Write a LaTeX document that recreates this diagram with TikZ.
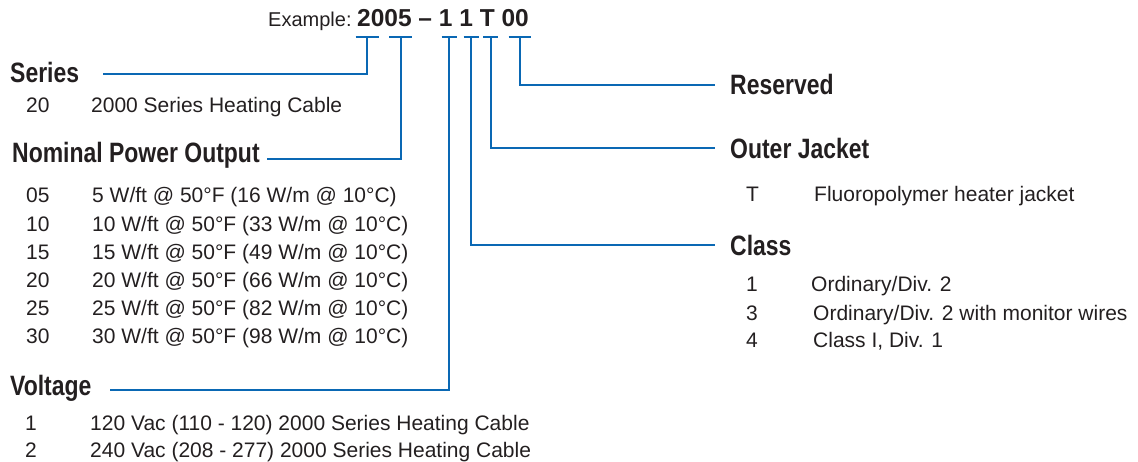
\documentclass[tikz,border=0pt]{standalone}
\usepackage{fontspec}
\setmainfont{Liberation Sans}
\newfontfamily\headfont[FakeStretch=0.82]{Liberation Sans}
\usepackage{xcolor}
\definecolor{leadblue}{HTML}{0A68B4}
\definecolor{inkgray}{HTML}{231F20}

\begin{document}
\begin{tikzpicture}[
  x=1pt, y=-1pt,
  head/.style={
    font=\headfont\bfseries\fontsize{28}{30}\selectfont,
    text=inkgray,
    anchor=base west,
    inner sep=0pt
  },
  item/.style={
    font=\fontsize{21}{24}\selectfont,
    text=inkgray,
    anchor=base west,
    inner sep=0pt
  },
  codetxt/.style={
    font=\bfseries\fontsize{24.5}{26}\selectfont,
    text=inkgray,
    anchor=base west,
    inner sep=0pt
  },
  lead/.style={draw=leadblue, line width=2pt}
]
  \useasboundingbox (0,0) rectangle (1138,462);

  % Example part number
  \node[item, font=\fontsize{20}{24}\selectfont] (exlabel) at (268,27) {Example:};
  \node[codetxt] (excode) at (357,27) {2005 – 1 1 T 00};

  % Tick points under each field of the code
  \coordinate (kSer)   at (367,37.5);
  \coordinate (kPow)   at (400.5,37.5);
  \coordinate (kVolt)  at (449,37.5);
  \coordinate (kClass) at (471,37.5);
  \coordinate (kJack)  at (490.5,37.5);
  \coordinate (kRes)   at (519.5,37.5);

  % LEFT COLUMN: Series
  \node[head] (hSer) at (10,83) {Series};
  \node[item] (nSer20) at (26,113) {20};
  \node[item] (dSer20) at (91,113) {2000 Series Heating Cable};

  % LEFT COLUMN: Nominal Power Output
  \node[head] (hPow) at (12,163) {Nominal Power Output};
  \node[item] (nPow05) at (26,203) {05};
  \node[item] (dPow05) at (92,203) {5 W/ft @ 50°F (16 W/m @ 10°C)};
  \node[item] (nPow10) at (26,231.5) {10};
  \node[item] (dPow10) at (92,231.5) {10 W/ft @ 50°F (33 W/m @ 10°C)};
  \node[item] (nPow15) at (26,259.5) {15};
  \node[item] (dPow15) at (92,259.5) {15 W/ft @ 50°F (49 W/m @ 10°C)};
  \node[item] (nPow20) at (26,287.5) {20};
  \node[item] (dPow20) at (92,287.5) {20 W/ft @ 50°F (66 W/m @ 10°C)};
  \node[item] (nPow25) at (26,316) {25};
  \node[item] (dPow25) at (92,316) {25 W/ft @ 50°F (82 W/m @ 10°C)};
  \node[item] (nPow30) at (26,344) {30};
  \node[item] (dPow30) at (92,344) {30 W/ft @ 50°F (98 W/m @ 10°C)};

  % LEFT COLUMN: Voltage
  \node[head] (hVolt) at (10,395) {Voltage};
  \node[item] (nVolt1) at (25,430) {1};
  \node[item] (dVolt1) at (90,430) {120 Vac (110 - 120) 2000 Series Heating Cable};
  \node[item] (nVolt2) at (25,457) {2};
  \node[item] (dVolt2) at (90,457) {240 Vac (208 - 277) 2000 Series Heating Cable};

  % RIGHT COLUMN: Reserved, Outer Jacket, Class
  \node[head] (hRes) at (730,95) {Reserved};

  \node[head] (hJack) at (730,158.5) {Outer Jacket};
  \node[item] (nJackT) at (746,202) {T};
  \node[item] (dJackT) at (814,202) {Fluoropolymer heater jacket};

  \node[head] (hClass) at (730,256) {Class};
  \node[item] (nClass1) at (746,292) {1};
  \node[item] (dClass1) at (811,292) {Ordinary/Div. 2};
  \node[item] (nClass3) at (746,320) {3};
  \node[item] (dClass3) at (813,320) {Ordinary/Div. 2 with monitor wires};
  \node[item] (nClass4) at (746,348) {4};
  \node[item] (dClass4) at (813,348) {Class I, Div. 1};

  % Leader line ends next to the headings
  \coordinate (eSer)   at (103,74.5);
  \coordinate (ePow)   at (267,159);
  \coordinate (eVolt)  at (110,390);
  \coordinate (eRes)   at (715,85);
  \coordinate (eJack)  at (715,148.5);
  \coordinate (eClass) at (715,245);

  % Underscores below the code
  \draw[lead] ([xshift=-11.5pt]kSer) -- ([xshift=11.5pt]kSer);
  \draw[lead] ([xshift=-11.5pt]kPow) -- ([xshift=11.5pt]kPow);
  \draw[lead] ([xshift=-7.5pt]kVolt) -- ([xshift=7.5pt]kVolt);
  \draw[lead] ([xshift=-7.5pt]kClass) -- ([xshift=7.5pt]kClass);
  \draw[lead] ([xshift=-7.5pt]kJack) -- ([xshift=7.5pt]kJack);
  \draw[lead] ([xshift=-11pt]kRes) -- ([xshift=11pt]kRes);

  % Leaders from code fields to headings
  \draw[lead] (kSer) |- (eSer);
  \draw[lead] (kPow) |- (ePow);
  \draw[lead] (kVolt) |- (eVolt);
  \draw[lead] (kClass) |- (eClass);
  \draw[lead] (kJack) |- (eJack);
  \draw[lead] (kRes) |- (eRes);

\end{tikzpicture}
\end{document}
